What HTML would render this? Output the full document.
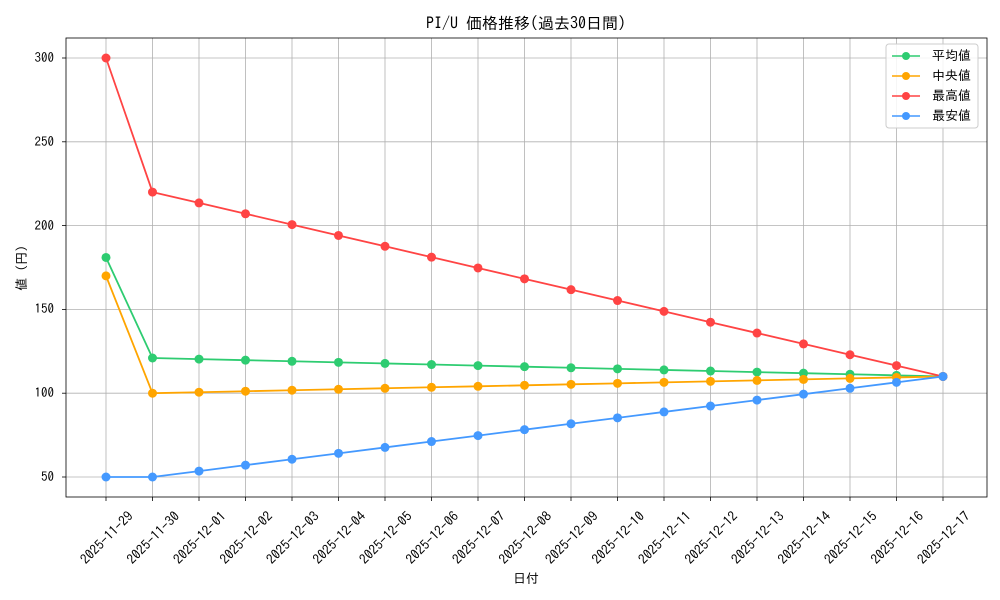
<!DOCTYPE html>
<html><head><meta charset="utf-8"><style>
body{margin:0;background:#fff}
svg{display:block;font-family:"IPAGothic","Liberation Sans","Noto Sans CJK JP",sans-serif}
</style></head><body>
<svg id="s" width="1000" height="600" xmlns="http://www.w3.org/2000/svg">
<rect width="1000" height="600" fill="#fff"/>
<g id="grid" stroke="#b0b0b0" stroke-width="0.8"></g>
<rect x="66" y="38" width="921" height="459" fill="none" stroke="#000" stroke-width="0.8"/>
<text x="526" y="29" font-size="16" text-anchor="middle">PI/U 価格推移(過去30日間)</text>
<text x="526" y="583" font-size="13" text-anchor="middle">日付</text>
<text transform="translate(26,268) rotate(-90)" font-size="13" text-anchor="middle">値 (円)</text>
<g font-size="13" text-anchor="end">
<text x="54" y="481">50</text><text x="54" y="397">100</text><text x="54" y="313">150</text>
<text x="54" y="230">200</text><text x="54" y="146">250</text><text x="54" y="62">300</text>
</g>
<g font-size="13.5" text-anchor="middle" id="xl">
<text transform="translate(110,541) rotate(-45)">2025-11-29</text>
<text transform="translate(156.5,541) rotate(-45)">2025-11-30</text>
<text transform="translate(203,541) rotate(-45)">2025-12-01</text>
<text transform="translate(249.5,541) rotate(-45)">2025-12-02</text>
<text transform="translate(296,541) rotate(-45)">2025-12-03</text>
<text transform="translate(342.5,541) rotate(-45)">2025-12-04</text>
<text transform="translate(389,541) rotate(-45)">2025-12-05</text>
<text transform="translate(435.5,541) rotate(-45)">2025-12-06</text>
<text transform="translate(482,541) rotate(-45)">2025-12-07</text>
<text transform="translate(528.5,541) rotate(-45)">2025-12-08</text>
<text transform="translate(575,541) rotate(-45)">2025-12-09</text>
<text transform="translate(621.5,541) rotate(-45)">2025-12-10</text>
<text transform="translate(668,541) rotate(-45)">2025-12-11</text>
<text transform="translate(714.5,541) rotate(-45)">2025-12-12</text>
<text transform="translate(761,541) rotate(-45)">2025-12-13</text>
<text transform="translate(807.5,541) rotate(-45)">2025-12-14</text>
<text transform="translate(854,541) rotate(-45)">2025-12-15</text>
<text transform="translate(900.5,541) rotate(-45)">2025-12-16</text>
<text transform="translate(947,541) rotate(-45)">2025-12-17</text>
</g>
<g id="series"></g>
<g>
<rect x="886" y="44" width="92" height="84" rx="3" fill="#fff" fill-opacity="0.85" stroke="#ccc"/>
<line x1="892" y1="56" x2="920" y2="56" stroke="#2ecc71" stroke-width="1.5"/><circle cx="906" cy="56" r="4" fill="#2ecc71"/>
<text x="932" y="60" font-size="13">平均値</text>
<line x1="892" y1="76" x2="920" y2="76" stroke="#ffa500" stroke-width="1.5"/><circle cx="906" cy="76" r="4" fill="#ffa500"/>
<text x="932" y="80" font-size="13"> 中央値</text>
<line x1="892" y1="96" x2="920" y2="96" stroke="#ff4444" stroke-width="1.5"/><circle cx="906" cy="96" r="4" fill="#ff4444"/>
<text x="932" y="100" font-size="13">最高値</text>
<line x1="892" y1="116" x2="920" y2="116" stroke="#4499ff" stroke-width="1.5"/><circle cx="906" cy="116" r="4" fill="#4499ff"/>
<text x="932" y="120" font-size="13">最安値</text>
</g>
</svg>
<script>
function X(i){return 106+i*46.5}
function Y(v){return 477-(v-50)*1.676}
var g=document.getElementById("grid"),h="";
for(var i=0;i<19;i++){h+='<line x1="'+X(i)+'" y1="38" x2="'+X(i)+'" y2="497"/><line x1="'+X(i)+'" y1="497" x2="'+X(i)+'" y2="501" stroke="#000"/>';}
for(var v=50;v<=300;v+=50){h+='<line x1="66" y1="'+Y(v)+'" x2="987" y2="'+Y(v)+'"/><line x1="62" y1="'+Y(v)+'" x2="66" y2="'+Y(v)+'" stroke="#000"/>';}
g.innerHTML=h;
var S=[["#2ecc71",181,121,-11/17],["#ffa500",170,100,10/17],["#ff4444",300,220,-110/17],["#4499ff",50,50,60/17]];
var out="";
S.forEach(function(s){var pts=[],c="";for(var i=0;i<19;i++){var v=i==0?s[1]:s[2]+(i-1)*s[3];pts.push(X(i)+","+Y(v));c+='<circle cx="'+X(i)+'" cy="'+Y(v)+'" r="4.5" fill="'+s[0]+'"/>';}
out+='<polyline points="'+pts.join(" ")+'" fill="none" stroke="'+s[0]+'" stroke-width="1.8"/>'+c;});
document.getElementById("series").innerHTML=out;
</script>
</body></html>
